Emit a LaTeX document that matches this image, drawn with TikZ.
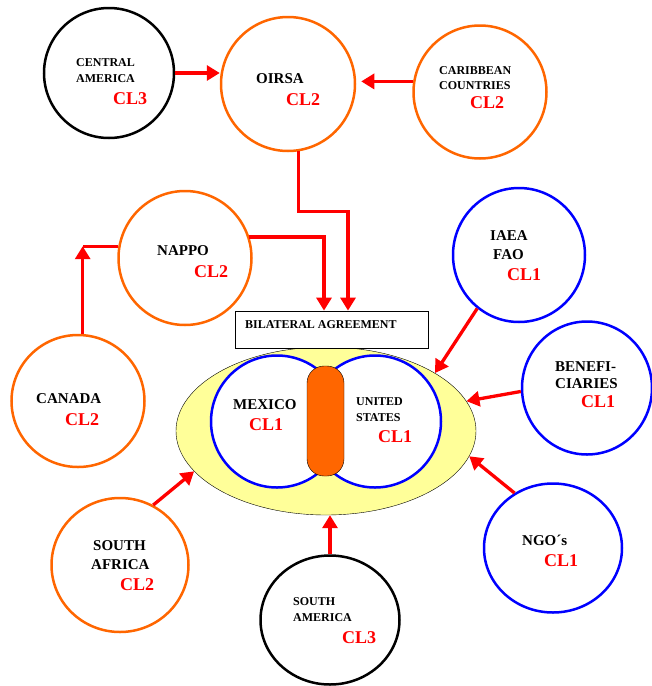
\documentclass[tikz,border=0pt]{standalone}
\usepackage{fontspec}
\setmainfont{Liberation Serif}
\usetikzlibrary{arrows.meta,shapes.geometric}
\definecolor{clred}{HTML}{FF0000}
\definecolor{clorange}{HTML}{FF6600}
\definecolor{clblue}{HTML}{0000FF}
\definecolor{clyellow}{HTML}{FFFF99}
\tikzset{
    dims/.style 2 args={minimum width=#1pt, minimum height=#2pt},
    party/.style={ellipse, draw, line width=2.5pt, inner sep=0pt},
    small/.style={anchor=base west, inner sep=0pt, font=\bfseries\fontsize{12}{14}\selectfont},
    large/.style={small, font=\bfseries\fontsize{15}{17}\selectfont},
    level/.style={anchor=base west, inner sep=0pt, text=clred, font=\bfseries\fontsize{18}{20}\selectfont},
    wire/.style={draw=clred, line width=3.3pt},
    link/.style={wire, -{Triangle[length=13pt,width=15pt]}},
}

\begin{document}
\begin{tikzpicture}[x=1pt,y=-1pt]
    \useasboundingbox (0,0) rectangle (652,686);
    % core of the agreement
    \node[ellipse, draw, thin, fill=clyellow, dims={300}{168}] (union) at (326,431) {};
    \node[circle, draw=clblue, fill=white, line width=2.5pt, minimum size=132pt] (mexico) at (277,421.5) {};
    \node[circle, draw=clblue, fill=white, line width=2.5pt, minimum size=132pt] (usa) at (375,421.5) {};
    \node[draw, thin, fill=clorange, rounded corners=17pt, inner sep=0pt, dims={37}{110}] (seal) at (325.5,421) {};
    \node[draw, fill=white, line width=0.8pt, dims={193}{37}] (pact) at (331.5,329.5) {};
    \node[small] (pactT) at (245,328.5) {BILATERAL AGREEMENT};
    \node[large] (mexicoT) at (233,409) {MEXICO};
    \node[level] (mexicoL) at (249,430) {CL1};
    \node[small] (usaT) at (356,405) {UNITED};
    \node[small] (usaS) at (356,421) {STATES};
    \node[level] (usaL) at (378,442) {CL1};

    \begin{scope}[color=black] % CL3
        \node[party, dims={130}{130}] (central) at (109,73) {};
        \node[small] (centralT) at (76,66) {CENTRAL};
        \node[small] (centralS) at (76,82) {AMERICA};
        \node[level] (centralL) at (113,104) {CL3};
        \node[party, dims={139}{129}] (samerica) at (330,620) {};
        \node[small] (samericaT) at (293,605.5) {SOUTH};
        \node[small] (samericaS) at (293,621) {AMERICA};
        \node[level] (samericaL) at (342,643) {CL3};
    \end{scope}
    \begin{scope}[color=clorange] % CL2
        \node[party, dims={134}{134}] (oirsa) at (288,84) {};
        \node[party, dims={133}{133}] (carib) at (480,92) {};
        \node[party, dims={133}{134}] (nappo) at (185,258) {};
        \node[party, dims={133}{132}] (canada) at (78,401) {};
        \node[party, dims={137}{134}] (safrica) at (120,565) {};
    \end{scope}
    \node[large] (oirsaT) at (256,83) {OIRSA};
    \node[level] (oirsaL) at (286,105) {CL2};
    \node[small] (caribT) at (439,74) {CARIBBEAN};
    \node[small] (caribS) at (439,89) {COUNTRIES};
    \node[level] (caribL) at (470,108) {CL2};
    \node[large] (nappoT) at (157,255) {NAPPO};
    \node[level] (nappoL) at (194,277) {CL2};
    \node[large] (canadaT) at (36,403) {CANADA};
    \node[level] (canadaL) at (65,425) {CL2};
    \node[large] (safricaT) at (93,550.5) {SOUTH};
    \node[large] (safricaS) at (91,569) {AFRICA};
    \node[level] (safricaL) at (120,590.5) {CL2};
    \begin{scope}[color=clblue] % CL1
        \node[party, dims={132}{134}] (iaea) at (519,255) {};
        \node[party, dims={130}{133}] (benef) at (587,388) {};
        \node[party, dims={138}{129}] (ngo) at (553,548) {};
    \end{scope}
    \node[large] (iaeaT) at (490,240) {IAEA};
    \node[large] (iaeaS) at (493,259) {FAO};
    \node[level] (iaeaL) at (507,280) {CL1};
    \node[large] (benefT) at (555,371) {BENEFI-};
    \node[large] (benefS) at (555,388) {CIARIES};
    \node[level] (benefL) at (581,407) {CL1};
    \node[large] (ngoT) at (522,545) {NGO´s};
    \node[level] (ngoL) at (544,566) {CL1};

    % flows towards the agreement
    \draw[link] (central.east) -- (central.east -| oirsa.west);
    \draw[link, shorten >=5pt] (carib.171) -- (carib.171 -| oirsa.east);
    \draw[link] (oirsa.-81) -- ++(0,60) -| ([xshift=16.5pt]pact.north);
    \draw[link] (nappo.18) -| ([xshift=-7.5pt]pact.north);
    \draw[wire] (nappo.170) -- (nappo.170 -| canada.86) coordinate (bend);
    \draw[link] (canada.86) -- (bend);
    \draw[link] (safrica.61) -- (union.197);
    \draw[link] (samerica.north) -- (samerica.north |- union.south);
    \draw[link] (ngo.125) -- (union.-10);
    \draw[link] (benef.183) -- (union.12);
    \draw[link] (iaea.232) -- (union.28);
\end{tikzpicture}
\end{document}
